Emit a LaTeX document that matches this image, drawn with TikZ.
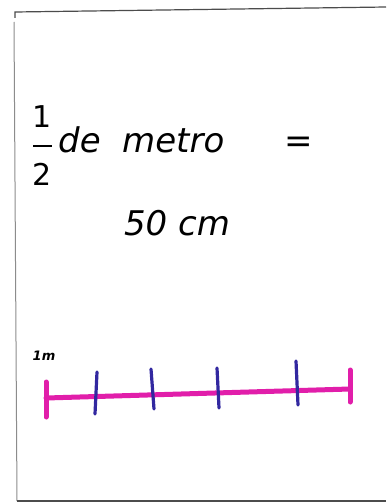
\documentclass[tikz,border=0pt]{standalone}
\usepackage{fontspec}
\setmainfont{DejaVu Sans}
\begin{document}
\begin{tikzpicture}[x=1pt,y=-1pt,
  frame/.style={draw=black!70,line width=1.2pt},
  ruler/.style={draw={rgb,255:red,225;green,30;blue,170},line width=5pt,line cap=round},
  tick/.style={draw={rgb,255:red,50;green,40;blue,160},line width=3.2pt,line cap=round},
  hand/.style={font=\fontsize{34}{38}\selectfont\itshape,inner sep=0pt}]
\useasboundingbox (0,0) rectangle (386,503);
\fill[white] (0,0) rectangle (386,503);
% frame
\coordinate (tl) at (15,12);
\coordinate (tr) at (386,7);
\coordinate (bl) at (17,501);
\coordinate (br) at (386,501);
\draw[frame] (15,18) -- (tl) -- (tr);
\draw[draw=black!45,line width=1pt] (14,22) -- (bl);
\draw[frame] (bl) -- (br);
% text
\node[inner sep=0pt,font=\fontsize{30}{34}\selectfont] (one) at (42,117) {1};
\node[inner sep=0pt,font=\fontsize{30}{34}\selectfont] (two) at (42,174) {2};
\draw[line width=1.6pt] (33,146) -- (52,146);
\node[hand,anchor=base west] (de) at (58,152) {de};
\node[hand,anchor=base west] (metro) at (122,152) {metro};
\node[hand,anchor=base west] (eq) at (284,152) {=};
\node[hand,anchor=base] (cm) at (177,235) {50 cm};
\node[font=\fontsize{13}{15}\selectfont\bfseries\itshape,inner sep=0pt] (m) at (44,356) {1m};
% ruler
\coordinate (r0) at (46,398);
\coordinate (r1) at (350,389);
\draw[ruler] (r0) -- (r1);
\draw[ruler] (46,382) -- (46,417);
\draw[ruler] (350,370) -- (350,402);
\draw[tick] (97,372) -- (95,414);
\draw[tick] (151,369) -- (154,409);
\draw[tick] (217,368) -- (219,408);
\draw[tick] (296,361) -- (298,405);
\end{tikzpicture}
\end{document}
